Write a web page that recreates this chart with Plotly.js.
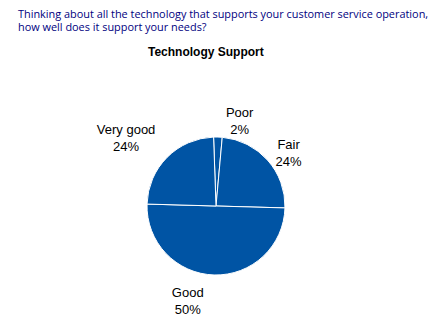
<!DOCTYPE html>
<html>
<head>
<meta charset="utf-8">
<script src="https://cdn.plot.ly/plotly-3.0.1.min.js"></script>
<style>html,body{margin:0;padding:0;background:#fff;}#chart{width:439px;height:331px;}</style>
</head>
<body>
<div id="chart"></div>
<script>
const categories = ["Poor", "Fair", "Good", "Very good"];
const values = [2, 24, 50, 24];
const questionLines = ["Thinking about all the technology that supports your customer service operation,", "how well does it support your needs?"];
const chartTitle = "Technology Support";

const W = 439, H = 331;
const cx = 216, cy = 206, r = 69;
const pad = "<span style='font-size:5px'> </span>";
const lbl = "%{label}<br>%{percent}";

const lineY = [13.5, 27];
const annotations = questionLines.map((t, i) => ({
  text: t,
  align: "left",
  x: 16 / W, xref: "paper", xanchor: "left",
  y: 1 - lineY[i] / H, yref: "paper", yanchor: "middle",
  showarrow: false,
  font: {family: "Open Sans, sans-serif", size: 10.9, color: "#000080"}
}));
annotations.push({
  text: "<b>" + chartTitle + "</b>",
  x: 206 / W, xref: "paper", xanchor: "center",
  y: 1 - 52 / H, yref: "paper", yanchor: "middle",
  showarrow: false,
  font: {family: "Liberation Sans, Arial, sans-serif", size: 12, color: "#000000"}
});

Plotly.newPlot("chart", [{
  type: "pie",
  labels: categories,
  values: values,
  sort: false,
  direction: "clockwise",
  rotation: -2,
  texttemplate: categories.map(c => c === "Good" ? pad + "<br>" + lbl : (c === "Very good" ? lbl + "<br>" + pad : lbl)),
  textposition: "outside",
  automargin: false,
  marker: {colors: categories.map(() => "#0054A4"), line: {color: "#ffffff", width: 1}},
  outsidetextfont: {family: "Liberation Sans, Arial, sans-serif", size: 13, color: "#000000"},
  hoverinfo: "none",
  domain: {x: [(cx - r) / W, (cx + r) / W], y: [(H - cy - r) / H, (H - cy + r) / H]}
}], {
  width: W, height: H,
  margin: {l: 0, r: 0, t: 0, b: 0},
  paper_bgcolor: "#ffffff",
  showlegend: false,
  annotations: annotations
}, {staticPlot: true, displayModeBar: false});
</script>
</body>
</html>
